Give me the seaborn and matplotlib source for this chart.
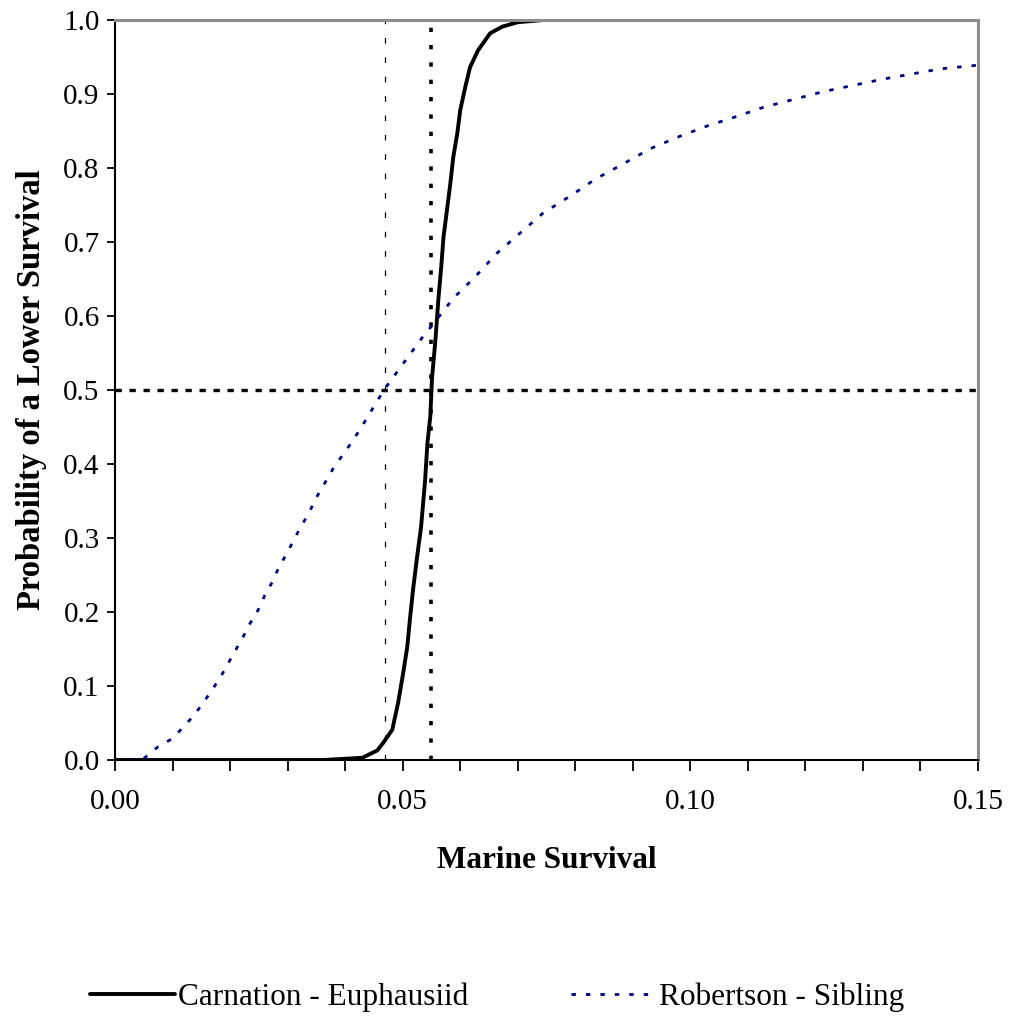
import matplotlib
matplotlib.use("Agg")
import matplotlib.pyplot as plt
from matplotlib.ticker import MultipleLocator, FormatStrFormatter
import numpy as np
import pandas as pd
import seaborn as sns

# Cumulative probability of a lower marine survival, per stock - relationship
carnation_x = [0.0, 0.0362, 0.0430, 0.0443, 0.0456, 0.0466, 0.0482, 0.0492, 0.0501,
               0.0508, 0.0513, 0.0518, 0.0525, 0.0532, 0.0539, 0.0543, 0.0548, 0.0551,
               0.0557, 0.0562, 0.0567, 0.0571, 0.0577, 0.0583, 0.0588, 0.0595, 0.0600,
               0.0609, 0.0617, 0.0631, 0.0652, 0.0673, 0.0700, 0.0745]
carnation_p = [0.0, 0.0, 0.003, 0.008, 0.013, 0.023, 0.041, 0.077, 0.118,
               0.153, 0.193, 0.230, 0.274, 0.315, 0.378, 0.428, 0.464, 0.516,
               0.568, 0.622, 0.666, 0.707, 0.743, 0.780, 0.815, 0.847, 0.878,
               0.910, 0.936, 0.959, 0.982, 0.991, 0.997, 1.0]

robertson_x = [0.0, 0.0030, 0.0050, 0.0075, 0.0100, 0.0118, 0.0137, 0.0153, 0.0169,
               0.0184, 0.0197, 0.0210, 0.0223, 0.0235, 0.0249, 0.0260, 0.0273, 0.0284,
               0.0297, 0.0310, 0.0322, 0.0336, 0.0348, 0.0380, 0.0412, 0.0430, 0.0458,
               0.0471, 0.0504, 0.0536, 0.0553, 0.0588, 0.0626, 0.0664, 0.0704, 0.0744,
               0.0791, 0.0835, 0.0882, 0.0930, 0.0979, 0.1030, 0.1078, 0.1127, 0.1230,
               0.1334, 0.1435, 0.1500]
robertson_p = [0.0, 0.0, 0.002, 0.018, 0.029, 0.044, 0.060, 0.077, 0.095,
               0.113, 0.131, 0.149, 0.167, 0.185, 0.203, 0.222, 0.240, 0.259,
               0.277, 0.296, 0.314, 0.332, 0.352, 0.395, 0.430, 0.452, 0.488,
               0.504, 0.539, 0.573, 0.589, 0.624, 0.653, 0.685, 0.712, 0.739,
               0.762, 0.785, 0.805, 0.826, 0.842, 0.857, 0.869, 0.882, 0.903,
               0.920, 0.934, 0.939]

# Reference lines: medians of the two distributions and the 50 % level
median_robertson = 0.047
median_carnation = 0.055
half_prob = 0.5

x_ticks_major = [0.00, 0.05, 0.10, 0.15]
y_ticks = [0.0, 0.1, 0.2, 0.3, 0.4, 0.5, 0.6, 0.7, 0.8, 0.9, 1.0]

sns.set_theme(style="white")
plt.rcParams["font.family"] = ["Liberation Serif", "DejaVu Serif"]
plt.rcParams["text.color"] = "black"
plt.rcParams["axes.labelcolor"] = "black"
plt.rcParams["mathtext.default"] = "regular"

W, H = 1010, 1017
fig = plt.figure(figsize=(W / 100, H / 100), dpi=100)
ax = fig.add_axes([115 / W, 1 - 760 / H, (978 - 115) / W, (760 - 20) / H])

carn = pd.DataFrame({"x": carnation_x, "p": carnation_p})
rob = pd.DataFrame({"x": robertson_x, "p": robertson_p})

sns.lineplot(data=carn, x="x", y="p", ax=ax, color="black", lw=2.8,
             label="Carnation - Euphausiid", sort=False)
sns.lineplot(data=rob, x="x", y="p", ax=ax, color="#000080", lw=2.0,
             linestyle=(0, (1.6, 3.6)), label="Robertson - Sibling", sort=False)

ax.plot([median_robertson, median_robertson], [0, 1], color="black", lw=0.9,
        linestyle=(0, (4.5, 11)), zorder=1)
ax.plot([median_carnation, median_carnation], [0, 1], color="black", lw=2.6,
        linestyle=(0, (1.2, 3.6)), zorder=1)
ax.plot([0, 0.15], [half_prob, half_prob], color="black", lw=2.4,
        linestyle=(0, (1.9, 2.3)), zorder=1)

ax.set_xlim(0, 0.15)
ax.set_ylim(0, 1.0)
ax.xaxis.set_major_locator(plt.FixedLocator(x_ticks_major))
ax.xaxis.set_minor_locator(MultipleLocator(0.01))
ax.xaxis.set_major_formatter(FormatStrFormatter("%.2f"))
ax.yaxis.set_major_locator(plt.FixedLocator(y_ticks))
ax.yaxis.set_major_formatter(FormatStrFormatter("%.1f"))

ax.tick_params(axis="x", which="both", direction="out", length=8, width=1.3,
               color="black", bottom=True, labelsize=21, pad=13)
ax.tick_params(axis="y", which="major", direction="out", length=6, width=1.3,
               color="black", left=True, labelsize=21, pad=5)
for lab in ax.get_xticklabels() + ax.get_yticklabels():
    lab.set_color("black")

for side in ("left", "bottom"):
    ax.spines[side].set_color("black")
    ax.spines[side].set_linewidth(1.5)
for side in ("top", "right"):
    ax.spines[side].set_color("#8c8c8c")
    ax.spines[side].set_linewidth(2.2)

ax.set_xlabel("Marine Survival", fontsize=22.5, fontweight="bold", color="black",
              labelpad=22)
ax.set_ylabel("Probability of a Lower Survival", fontsize=23.5, fontweight="bold",
              color="black", labelpad=12)

handles, labels = ax.get_legend_handles_labels()
ax.get_legend().remove()
leg = fig.legend(handles, labels, loc="center", bbox_to_anchor=(497 / W, 1 - 997 / H),
                 ncol=2, frameon=False, fontsize=22.5, handlelength=2.7,
                 handletextpad=0.1, columnspacing=3.3)
for t in leg.get_texts():
    t.set_color("black")

fig.savefig("out.png", dpi=100, facecolor="white")
